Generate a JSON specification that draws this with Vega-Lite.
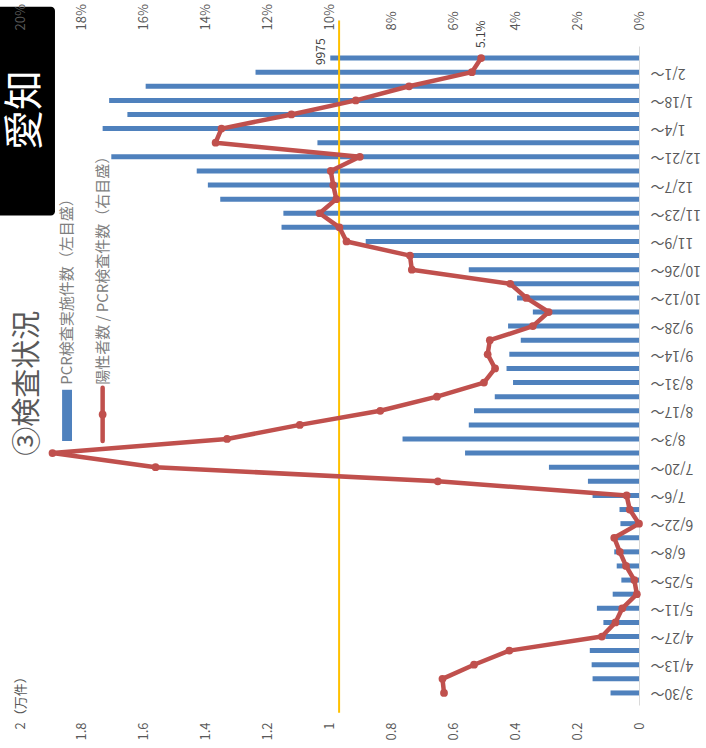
{
  "$schema": "https://vega.github.io/schema/vega-lite/v6.json",
  "width": 619,
  "height": 659,
  "autosize": "none",
  "padding": {"left": 20, "top": 46, "right": 67, "bottom": 43},
  "background": "white",
  "config": {
    "view": {"stroke": null},
    "font": "Noto Sans CJK JP",
    "axis": {
      "labelFont": "Noto Sans CJK JP",
      "labelColor": "#595959",
      "labelFontSize": 13,
      "ticks": false,
      "grid": false,
      "domain": false,
      "labelOverlap": false,
      "labelFlush": false
    }
  },
  "data": {
    "values": [
      {"week": "2020-03-30", "tests": 920, "rate": 0.063},
      {"week": "2020-04-06", "tests": 1500, "rate": 0.0635},
      {"week": "2020-04-13", "tests": 1530, "rate": 0.0533},
      {"week": "2020-04-20", "tests": 1590, "rate": 0.0419},
      {"week": "2020-04-27", "tests": 1090, "rate": 0.012},
      {"week": "2020-05-04", "tests": 1150, "rate": 0.0076},
      {"week": "2020-05-11", "tests": 1360, "rate": 0.0054},
      {"week": "2020-05-18", "tests": 850, "rate": 0.0007},
      {"week": "2020-05-25", "tests": 570, "rate": 0.0015},
      {"week": "2020-06-01", "tests": 720, "rate": 0.0042},
      {"week": "2020-06-08", "tests": 800, "rate": 0.0062},
      {"week": "2020-06-15", "tests": 720, "rate": 0.008},
      {"week": "2020-06-22", "tests": 600, "rate": 0.0},
      {"week": "2020-06-29", "tests": 630, "rate": 0.003},
      {"week": "2020-07-06", "tests": 1500, "rate": 0.004},
      {"week": "2020-07-13", "tests": 1650, "rate": 0.065},
      {"week": "2020-07-20", "tests": 2910, "rate": 0.1562},
      {"week": "2020-07-27", "tests": 5620, "rate": 0.1895},
      {"week": "2020-08-03", "tests": 7640, "rate": 0.1331},
      {"week": "2020-08-10", "tests": 5500, "rate": 0.1096},
      {"week": "2020-08-17", "tests": 5330, "rate": 0.0836},
      {"week": "2020-08-24", "tests": 4660, "rate": 0.0653},
      {"week": "2020-08-31", "tests": 4070, "rate": 0.0501},
      {"week": "2020-09-07", "tests": 4280, "rate": 0.0465},
      {"week": "2020-09-14", "tests": 4190, "rate": 0.0489},
      {"week": "2020-09-21", "tests": 3820, "rate": 0.0482},
      {"week": "2020-09-28", "tests": 4230, "rate": 0.0343},
      {"week": "2020-10-05", "tests": 3430, "rate": 0.0292},
      {"week": "2020-10-12", "tests": 3940, "rate": 0.0364},
      {"week": "2020-10-19", "tests": 4090, "rate": 0.0416},
      {"week": "2020-10-26", "tests": 5500, "rate": 0.0734},
      {"week": "2020-11-02", "tests": 7340, "rate": 0.074},
      {"week": "2020-11-09", "tests": 8830, "rate": 0.0945},
      {"week": "2020-11-16", "tests": 11550, "rate": 0.0968},
      {"week": "2020-11-23", "tests": 11490, "rate": 0.1032},
      {"week": "2020-11-30", "tests": 13530, "rate": 0.0978},
      {"week": "2020-12-07", "tests": 13930, "rate": 0.0988},
      {"week": "2020-12-14", "tests": 14290, "rate": 0.0996},
      {"week": "2020-12-21", "tests": 17050, "rate": 0.0902},
      {"week": "2020-12-28", "tests": 10390, "rate": 0.1368},
      {"week": "2021-01-04", "tests": 17330, "rate": 0.1349},
      {"week": "2021-01-11", "tests": 16530, "rate": 0.1123},
      {"week": "2021-01-18", "tests": 17120, "rate": 0.0915},
      {"week": "2021-01-25", "tests": 15940, "rate": 0.0743},
      {"week": "2021-02-01", "tests": 12390, "rate": 0.054},
      {"week": "2021-02-08", "tests": 9975, "rate": 0.051}
    ]
  },
  "layer": [
    {
      "data": {"values": [{}]},
      "mark": {"type": "rect", "color": "#000000", "cornerRadius": 4},
      "encoding": {
        "x": {"datum": 21000, "type": "quantitative", "scale": {"domain": [0, 20000], "reverse": true}, "axis": null},
        "x2": {"datum": 18870},
        "y": {"datum": {"year": 2021, "month": 3, "date": 5, "hours": 12, "utc": true}, "type": "temporal",
              "scale": {"type": "utc", "domain": [{"year": 2020, "month": 3, "date": 26, "hours": 12, "utc": true}, {"year": 2021, "month": 2, "date": 11, "hours": 12, "utc": true}]}, "axis": null},
        "y2": {"datum": {"year": 2020, "month": 11, "date": 21, "hours": 22, "utc": true}}
      }
    },
    {
      "mark": {"type": "bar", "orient": "horizontal", "size": 5, "color": "#4F81BD"},
      "encoding": {
        "x": {
          "field": "tests", "type": "quantitative",
          "scale": {"domain": [0, 20000], "reverse": true},
          "axis": {
            "orient": "bottom", "title": null,
            "values": [0, 2000, 4000, 6000, 8000, 10000, 12000, 14000, 16000, 18000, 20000],
            "labelExpr": "datum.value === 20000 ? '2（万件）' : format(datum.value / 10000, '.1~f')",
            "labelAngle": 270,
            "labelAlign": {"condition": {"test": "datum.value === 20000", "value": "left"}, "value": "right"},
            "labelPadding": {"condition": {"test": "datum.value === 20000", "value": 24}, "value": 17},
            "labelBaseline": "middle"
          }
        },
        "y": {
          "field": "week", "type": "temporal",
          "scale": {"type": "utc", "domain": [{"year": 2020, "month": 3, "date": 26, "hours": 12, "utc": true}, {"year": 2021, "month": 2, "date": 11, "hours": 12, "utc": true}]},
          "axis": {
            "orient": "right", "title": null,
            "values": [1585526400000, 1586736000000, 1587945600000, 1589155200000, 1590364800000, 1591574400000,
                       1592784000000, 1593993600000, 1595203200000, 1596412800000, 1597622400000, 1598832000000,
                       1600041600000, 1601251200000, 1602460800000, 1603670400000, 1604880000000, 1606089600000,
                       1607299200000, 1608508800000, 1609718400000, 1610928000000, 1612137600000],
            "labelExpr": "utcFormat(datum.value, '%-m/%-d') + '～'",
            "labelAngle": 180,
            "labelAlign": "right",
            "labelBaseline": "middle",
            "labelPadding": 11,
            "labelFontSize": 14,
            "labelOverlap": false,
            "labelBound": false,
            "domain": true,
            "domainColor": "#D9D9D9",
            "domainWidth": 1
          }
        }
      }
    },
    {
      "data": {"values": [{}]},
      "mark": {"type": "rule", "color": "#FFC000", "strokeWidth": 2},
      "encoding": {
        "x": {"datum": 9690, "type": "quantitative", "scale": {"domain": [0, 20000], "reverse": true}, "axis": null},
        "y": {"datum": {"year": 2021, "month": 2, "date": 26, "hours": 16, "utc": true}, "type": "temporal",
              "scale": {"type": "utc", "domain": [{"year": 2020, "month": 3, "date": 26, "hours": 12, "utc": true}, {"year": 2021, "month": 2, "date": 11, "hours": 12, "utc": true}]}, "axis": null},
        "y2": {"datum": {"year": 2020, "month": 3, "date": 20, "hours": 4, "utc": true}}
      }
    },
    {
      "mark": {"type": "line", "color": "#C0504D", "strokeWidth": 4.5, "strokeJoin": "round", "strokeCap": "round",
               "point": {"filled": true, "size": 60, "color": "#C0504D"}},
      "encoding": {
        "x": {
          "field": "rate", "type": "quantitative",
          "scale": {"domain": [0, 0.2], "reverse": true},
          "axis": {
            "orient": "top", "title": null,
            "values": [0, 0.02, 0.04, 0.06, 0.08, 0.1, 0.12, 0.14, 0.16, 0.18, 0.2],
            "format": ".0%",
            "labelAngle": 270,
            "labelAlign": "left",
            "labelBaseline": "middle",
            "labelPadding": 16,
            "zindex": 1
          }
        },
        "y": {"field": "week", "type": "temporal",
              "scale": {"type": "utc", "domain": [{"year": 2020, "month": 3, "date": 26, "hours": 12, "utc": true}, {"year": 2021, "month": 2, "date": 11, "hours": 12, "utc": true}]}, "axis": null},
        "order": {"field": "week", "type": "temporal"}
      }
    },
    {
      "transform": [{"filter": {"field": "tests", "equal": 9975}}],
      "mark": {"type": "text", "angle": 270, "align": "left", "baseline": "middle", "dx": -7, "dy": -9, "fontSize": 12, "color": "#404040"},
      "encoding": {
        "x": {"field": "tests", "type": "quantitative", "scale": {"domain": [0, 20000], "reverse": true}, "axis": null},
        "y": {"field": "week", "type": "temporal",
              "scale": {"type": "utc", "domain": [{"year": 2020, "month": 3, "date": 26, "hours": 12, "utc": true}, {"year": 2021, "month": 2, "date": 11, "hours": 12, "utc": true}]}, "axis": null},
        "text": {"field": "tests", "type": "quantitative", "format": "d"}
      }
    },
    {
      "transform": [{"filter": {"field": "tests", "equal": 9975}}],
      "mark": {"type": "text", "angle": 270, "align": "left", "baseline": "middle", "dx": 10, "dy": 0, "fontSize": 12, "color": "#404040"},
      "encoding": {
        "x": {"field": "rate", "type": "quantitative", "scale": {"domain": [0, 0.2], "reverse": true}, "axis": null},
        "y": {"field": "week", "type": "temporal",
              "scale": {"type": "utc", "domain": [{"year": 2020, "month": 3, "date": 26, "hours": 12, "utc": true}, {"year": 2021, "month": 2, "date": 11, "hours": 12, "utc": true}]}, "axis": null},
        "text": {"field": "rate", "type": "quantitative", "format": ".1%"}
      }
    },
    {
      "data": {"values": [{}]},
      "mark": {"type": "rect", "color": "#4F81BD"},
      "encoding": {
        "x": {"datum": 18640, "type": "quantitative", "scale": {"domain": [0, 20000], "reverse": true}, "axis": null},
        "x2": {"datum": 18320},
        "y": {"datum": {"year": 2020, "month": 8, "date": 27, "hours": 10, "utc": true}, "type": "temporal",
              "scale": {"type": "utc", "domain": [{"year": 2020, "month": 3, "date": 26, "hours": 12, "utc": true}, {"year": 2021, "month": 2, "date": 11, "hours": 12, "utc": true}]}, "axis": null},
        "y2": {"datum": {"year": 2020, "month": 8, "date": 2, "utc": true}}
      }
    },
    {
      "data": {"values": [{}]},
      "mark": {"type": "rule", "color": "#C0504D", "strokeWidth": 4.5, "strokeCap": "round"},
      "encoding": {
        "x": {"datum": 17330, "type": "quantitative", "scale": {"domain": [0, 20000], "reverse": true}, "axis": null},
        "y": {"datum": {"year": 2020, "month": 8, "date": 28, "hours": 10, "utc": true}, "type": "temporal",
              "scale": {"type": "utc", "domain": [{"year": 2020, "month": 3, "date": 26, "hours": 12, "utc": true}, {"year": 2021, "month": 2, "date": 11, "hours": 12, "utc": true}]}, "axis": null},
        "y2": {"datum": {"year": 2020, "month": 8, "date": 2, "utc": true}}
      }
    },
    {
      "data": {"values": [{}]},
      "mark": {"type": "point", "filled": true, "size": 60, "color": "#C0504D", "opacity": 1},
      "encoding": {
        "x": {"datum": 17330, "type": "quantitative", "scale": {"domain": [0, 20000], "reverse": true}, "axis": null},
        "y": {"datum": {"year": 2020, "month": 8, "date": 15, "hours": 5, "utc": true}, "type": "temporal",
              "scale": {"type": "utc", "domain": [{"year": 2020, "month": 3, "date": 26, "hours": 12, "utc": true}, {"year": 2021, "month": 2, "date": 11, "hours": 12, "utc": true}]}, "axis": null}
      }
    },
    {
      "data": {"values": [{}]},
      "mark": {"type": "text", "angle": 270, "align": "left", "baseline": "middle", "fontSize": 15, "color": "#7F7F7F", "text": "PCR検査実施件数（左目盛）"},
      "encoding": {
        "x": {"datum": 18480, "type": "quantitative", "scale": {"domain": [0, 20000], "reverse": true}, "axis": null},
        "y": {"datum": {"year": 2020, "month": 8, "date": 29, "hours": 21, "utc": true}, "type": "temporal",
              "scale": {"type": "utc", "domain": [{"year": 2020, "month": 3, "date": 26, "hours": 12, "utc": true}, {"year": 2021, "month": 2, "date": 11, "hours": 12, "utc": true}]}, "axis": null}
      }
    },
    {
      "data": {"values": [{}]},
      "mark": {"type": "text", "angle": 270, "align": "left", "baseline": "middle", "fontSize": 15, "color": "#7F7F7F", "text": "陽性者数 / PCR検査件数（右目盛）"},
      "encoding": {
        "x": {"datum": 17330, "type": "quantitative", "scale": {"domain": [0, 20000], "reverse": true}, "axis": null},
        "y": {"datum": {"year": 2020, "month": 8, "date": 29, "hours": 21, "utc": true}, "type": "temporal",
              "scale": {"type": "utc", "domain": [{"year": 2020, "month": 3, "date": 26, "hours": 12, "utc": true}, {"year": 2021, "month": 2, "date": 11, "hours": 12, "utc": true}]}, "axis": null}
      }
    },
    {
      "data": {"values": [{}]},
      "mark": {"type": "text", "angle": 270, "align": "left", "baseline": "middle", "fontSize": 29, "color": "#595959", "text": "③検査状況"},
      "encoding": {
        "x": {"datum": 19740, "type": "quantitative", "scale": {"domain": [0, 20000], "reverse": true}, "axis": null},
        "y": {"datum": {"year": 2020, "month": 7, "date": 25, "hours": 16, "utc": true}, "type": "temporal",
              "scale": {"type": "utc", "domain": [{"year": 2020, "month": 3, "date": 26, "hours": 12, "utc": true}, {"year": 2021, "month": 2, "date": 11, "hours": 12, "utc": true}]}, "axis": null}
      }
    },
    {
      "data": {"values": [{}]},
      "mark": {"type": "text", "angle": 270, "align": "center", "baseline": "middle", "fontSize": 40, "color": "#FFFFFF", "text": "愛知"},
      "encoding": {
        "x": {"datum": 19820, "type": "quantitative", "scale": {"domain": [0, 20000], "reverse": true}, "axis": null},
        "y": {"datum": {"year": 2021, "month": 1, "date": 13, "hours": 4, "utc": true}, "type": "temporal",
              "scale": {"type": "utc", "domain": [{"year": 2020, "month": 3, "date": 26, "hours": 12, "utc": true}, {"year": 2021, "month": 2, "date": 11, "hours": 12, "utc": true}]}, "axis": null}
      }
    }
  ],
  "resolve": {"scale": {"x": "independent"}, "axis": {"x": "independent", "y": "independent"}}
}
